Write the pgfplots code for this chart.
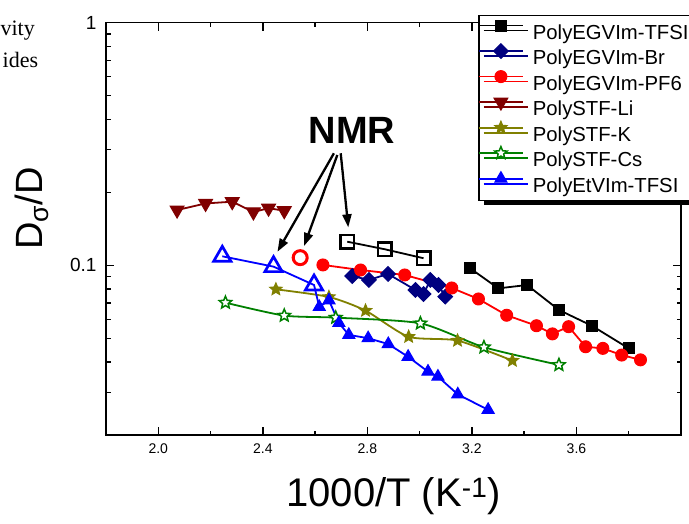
\documentclass[border=0pt]{standalone}
\usepackage{pgfplots}
\pgfplotsset{compat=1.18}
\usepackage{fontspec}
\setmainfont{Liberation Sans}
\newfontfamily\seriffont{Liberation Serif}
\usetikzlibrary{arrows.meta,shadows}
\definecolor{navyc}{RGB}{0,0,128}
\definecolor{darkredc}{RGB}{128,0,0}
\definecolor{olivec}{RGB}{128,128,0}
\definecolor{greenc}{RGB}{0,128,0}
\definecolor{bluec}{RGB}{0,0,255}
\definecolor{redc}{RGB}{255,0,0}

\pgfdeclareplotmark{fstar}{%
  \pgfpathmoveto{\pgfpointpolar{90}{\pgfplotmarksize}}%
  \pgfpathlineto{\pgfpointpolar{126}{0.45\pgfplotmarksize}}%
  \pgfpathlineto{\pgfpointpolar{162}{\pgfplotmarksize}}%
  \pgfpathlineto{\pgfpointpolar{198}{0.45\pgfplotmarksize}}%
  \pgfpathlineto{\pgfpointpolar{234}{\pgfplotmarksize}}%
  \pgfpathlineto{\pgfpointpolar{270}{0.45\pgfplotmarksize}}%
  \pgfpathlineto{\pgfpointpolar{306}{\pgfplotmarksize}}%
  \pgfpathlineto{\pgfpointpolar{342}{0.45\pgfplotmarksize}}%
  \pgfpathlineto{\pgfpointpolar{18}{\pgfplotmarksize}}%
  \pgfpathlineto{\pgfpointpolar{54}{0.45\pgfplotmarksize}}%
  \pgfpathclose
  \pgfusepathqfillstroke}

\begin{document}
\begin{tikzpicture}
\begin{axis}[
  at={(106pt,89pt)}, anchor=south west,
  scale only axis, width=575pt, height=412.3pt,
  xmin=1.8, xmax=4.0, ymode=log, ymin=0.02, ymax=1,
  axis line style={line width=1.6pt},
  every tick/.style={black, line width=1.4pt},
  major tick length=8pt, minor tick length=4.5pt,
  tick align=inside,
  xtick={2.0,2.4,2.8,3.2,3.6}, xticklabels={2.0,2.4,2.8,3.2,3.6},
  minor xtick={2.2,2.6,3.0,3.4,3.8},
  ytick={0.1,1}, yticklabels={0.1,1},
  minor ytick={0.02,0.03,0.04,0.05,0.06,0.07,0.08,0.09,0.2,0.3,0.4,0.5,0.6,0.7,0.8,0.9},
  /pgf/number format/assume math mode=true,
  xticklabel style={font=\fontsize{14}{16}\selectfont, yshift=-5pt},
  yticklabel style={font=\fontsize{19}{22}\selectfont, xshift=-6pt},
  xlabel={1000/T (K\textsuperscript{-1})},
  xlabel style={font=\fontsize{40}{46}\selectfont, at={(rel axis cs:0.5,-0.174)}, anchor=base},
  ylabel={D\textsubscript{σ}/D},
  ylabel style={font=\fontsize{38}{44}\selectfont, at={(rel axis cs:-0.1096,0.549)}, anchor=base},
  legend style={at={(rel axis cs:0.6475,1.0187)}, anchor=north west, draw=black, line width=1.2pt, fill=white,
    inner xsep=0pt, inner ysep=3pt, row sep=0pt, column sep=6pt, font=\fontsize{20.3}{23}\selectfont,
    nodes={inner xsep=4pt, inner ysep=3.4pt},
    drop shadow={shadow xshift=5pt, shadow yshift=-5pt, fill=black, opacity=1}},
  legend cell align=left,
  legend image code/.code={%
    \pgfpathrectangle{\pgfpoint{0pt}{0pt}}{\pgfpoint{44pt}{14pt}}\pgfusepath{}%
    \begin{pgfinterruptboundingbox}
    \draw[mark repeat=2,mark phase=2] plot coordinates {(0pt,7pt) (22pt,7pt) (44pt,7pt)};
    \end{pgfinterruptboundingbox}},
]
% PolyEGVIm-TFSI
\addplot[black, line width=1.8pt, mark=square*, mark size=5.5pt, mark options={solid, fill=black, line width=1pt}] coordinates {
(3.193,0.0973) (3.301,0.0804) (3.411,0.0830) (3.533,0.0655) (3.660,0.0563) (3.800,0.0455)};
\addlegendentry{PolyEGVIm-TFSI}
% PolyEGVIm-Br
\addplot[navyc, line width=1.8pt, mark=square*, mark size=5.2pt, mark options={solid, fill=navyc, rotate=45, line width=1pt}] coordinates {
(2.742,0.0904) (2.806,0.0871) (2.879,0.0922) (2.984,0.0792) (3.015,0.0762) (3.041,0.0871) (3.072,0.0830) (3.098,0.0743)};
\addlegendentry{PolyEGVIm-Br}
% PolyEGVIm-PF6
\addplot[redc, line width=1.8pt, mark=*, mark size=6pt, mark options={solid, fill=redc, line width=1pt}] coordinates {
(2.630,0.1004) (2.774,0.0957) (2.943,0.0913) (3.123,0.0807) (3.225,0.0727) (3.333,0.0623) (3.447,0.0564)
(3.508,0.0522) (3.570,0.0559) (3.635,0.0462) (3.701,0.0455) (3.773,0.0427) (3.845,0.0408)};
\addlegendentry{PolyEGVIm-PF6}
% PolySTF-Li
\addplot[darkredc, line width=1.8pt, mark=triangle*, mark size=8pt, mark options={solid, fill=darkredc, rotate=180, line width=1pt}] coordinates {
(2.072,0.169) (2.181,0.180) (2.283,0.183) (2.364,0.166) (2.422,0.172) (2.482,0.168)};
\addlegendentry{PolySTF-Li}
% PolySTF-K
\addplot[olivec, line width=1.8pt, smooth, tension=0.4, mark=fstar, mark size=6.5pt, mark options={solid, fill=olivec, line width=1pt}] coordinates {
(2.450,0.0797) (2.653,0.0741) (2.793,0.0651) (2.958,0.0508) (3.145,0.0490) (3.355,0.0405)};
\addlegendentry{PolySTF-K}
% PolySTF-Cs
\addplot[greenc, line width=1.8pt, smooth, tension=0.4, mark=fstar, mark size=6.5pt, mark options={solid, fill=white, line width=1.5pt}] coordinates {
(2.257,0.0702) (2.482,0.0621) (2.679,0.0609) (3.003,0.0577) (3.246,0.0460) (3.533,0.0389)};
\addlegendentry{PolySTF-Cs}
% PolyEtVIm-TFSI
\addplot[bluec, line width=1.8pt, mark=triangle*, mark size=7pt, mark options={solid, fill=bluec, line width=1pt}] coordinates {
(2.616,0.0674) (2.653,0.0718) (2.691,0.0579) (2.729,0.0517) (2.803,0.0501) (2.880,0.0474) (2.956,0.0420)
(3.032,0.0365) (3.070,0.0348) (3.146,0.0294) (3.262,0.0254)};
\addlegendentry{PolyEtVIm-TFSI}
% NMR points
\addplot[forget plot, black, line width=1.8pt, mark=square, mark size=6.75pt, mark options={solid, fill=white, line width=2.5pt}] coordinates {
(2.723,0.1252) (2.867,0.1165) (3.015,0.1070)};
\addplot[forget plot, only marks, redc, mark=o, mark size=7pt, mark options={solid, fill=white, line width=3pt}] coordinates {
(2.543,0.1076)};
\addplot[forget plot, bluec, line width=1.8pt, mark=triangle, mark size=10pt, mark indices={1,2,3}, mark options={solid, fill=white, line width=2.7pt}] coordinates {
(2.245,0.109) (2.441,0.0988) (2.596,0.0830) (2.616,0.0674)};
% NMR annotation
\node[font=\fontsize{38}{44}\selectfont\bfseries] at (axis cs:2.741,0.361) {NMR};
\draw[line width=2.3pt, -{Triangle[length=13pt,width=9pt]}] (axis cs:2.672,0.2897) -- (axis cs:2.456,0.1138);
\draw[line width=2.3pt, -{Triangle[length=13pt,width=9pt]}] (axis cs:2.685,0.285) -- (axis cs:2.558,0.1202);
\draw[line width=2.3pt, -{Triangle[length=13pt,width=9pt]}] (axis cs:2.698,0.2897) -- (axis cs:2.727,0.1435);
\end{axis}
\node[font=\seriffont\fontsize{22}{26}\selectfont, anchor=base east, inner sep=0pt] at (35pt,488pt) {vity};
\node[font=\seriffont\fontsize{22}{26}\selectfont, anchor=base east, inner sep=0pt] at (38.3pt,456pt) {ides};
\pgfresetboundingbox
\useasboundingbox (0pt,0pt) rectangle (689pt,524pt);
\end{tikzpicture}
\end{document}
